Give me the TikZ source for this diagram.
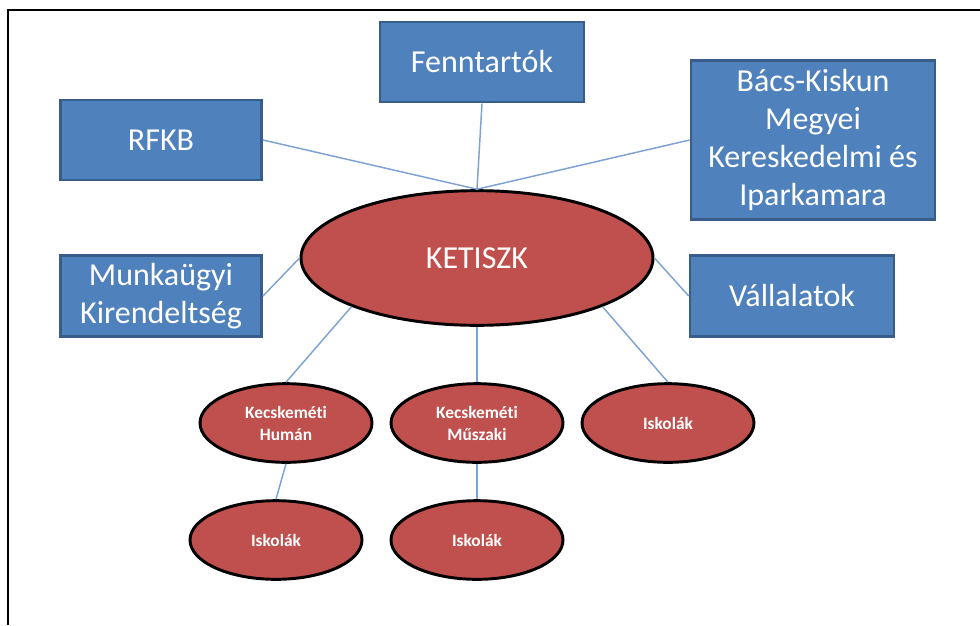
\documentclass[tikz,border=0pt]{standalone}
\usepackage{fontspec}
\setmainfont{Carlito}[Ligatures=NoCommon]
\usepackage{tikz}
\usetikzlibrary{shapes.geometric}
\definecolor{boxblue}{HTML}{4F81BD}
\definecolor{boxline}{HTML}{385D8A}
\definecolor{ovalred}{HTML}{C0504D}
\definecolor{linkblue}{HTML}{7DA2D3}
\tikzstyle{link}=[draw=linkblue, line width=1.1pt]
\tikzstyle{partner}=[rectangle, draw=boxline, line width=2pt, fill=boxblue, text=white, inner sep=0pt, align=center, font=\fontsize{24}{28.5}\selectfont]
\tikzstyle{hub}=[ellipse, draw=black, line width=2.2pt, fill=ovalred, text=white, inner sep=0pt, minimum width=264pt, minimum height=101pt, font=\fontsize{24}{28.5}\selectfont]
\tikzstyle{school}=[ellipse, draw=black, line width=2.2pt, fill=ovalred, text=white, inner sep=0pt, minimum width=129pt, minimum height=59pt, align=center, font=\fontsize{13}{16.5}\selectfont\bfseries]
\tikzstyle{frame}=[draw=black, line width=1.5pt]

\begin{document}
\begin{tikzpicture}[x=0.75pt, y=-0.75pt]
				\useasboundingbox (0,0) rectangle (980,625);
				%The frame
				\draw[frame] (8,625) -- (8,10) -- (980,10);
				
				%The partners
				\draw (161,140) node[partner, minimum width=151pt, minimum height=60pt] (rfkb) {RFKB};
				\draw (482,62) node[partner, minimum width=153pt, minimum height=60pt] (fenn) {Fenntartók};
				\draw (813,140) node[partner, minimum width=183pt, minimum height=119pt] (kamara) {Bács-Kiskun\\Megyei\\Kereskedelmi és\\Iparkamara};
				\draw (161,296) node[partner, minimum width=151pt, minimum height=61pt] (munka) {Munkaügyi\\Kirendeltség};
				\draw (792,296) node[partner, minimum width=153pt, minimum height=61pt] (vall) {Vállalatok};
				
				%The centre
				\draw (477,258) node[hub] (ketiszk) {KETISZK};
				
				%The schools
				\draw (286,423) node[school] (human) {Kecskeméti\\Humán};
				\draw (477,423) node[school] (muszaki) {Kecskeméti\\Műszaki};
				\draw (668,423) node[school] (isk1) {Iskolák};
				\draw (276,540) node[school] (isk2) {Iskolák};
				\draw (477,540) node[school] (isk3) {Iskolák};
				
				%The links
				\draw[link] (rfkb.east) -- (ketiszk.north);
				\draw[link] (fenn.south) -- (ketiszk.north);
				\draw[link] (kamara.west) -- (ketiszk.north);
				\draw[link] (munka.east) -- (ketiszk.west);
				\draw[link] (vall.west) -- (ketiszk.east);
				\draw[link] (ketiszk.south west) -- (human.north);
				\draw[link] (ketiszk.south) -- (muszaki.north);
				\draw[link] (ketiszk.south east) -- (isk1.north);
				\draw[link] (human.south) -- (isk2.north);
				\draw[link] (muszaki.south) -- (isk3.north);
			\end{tikzpicture}
\end{document}
